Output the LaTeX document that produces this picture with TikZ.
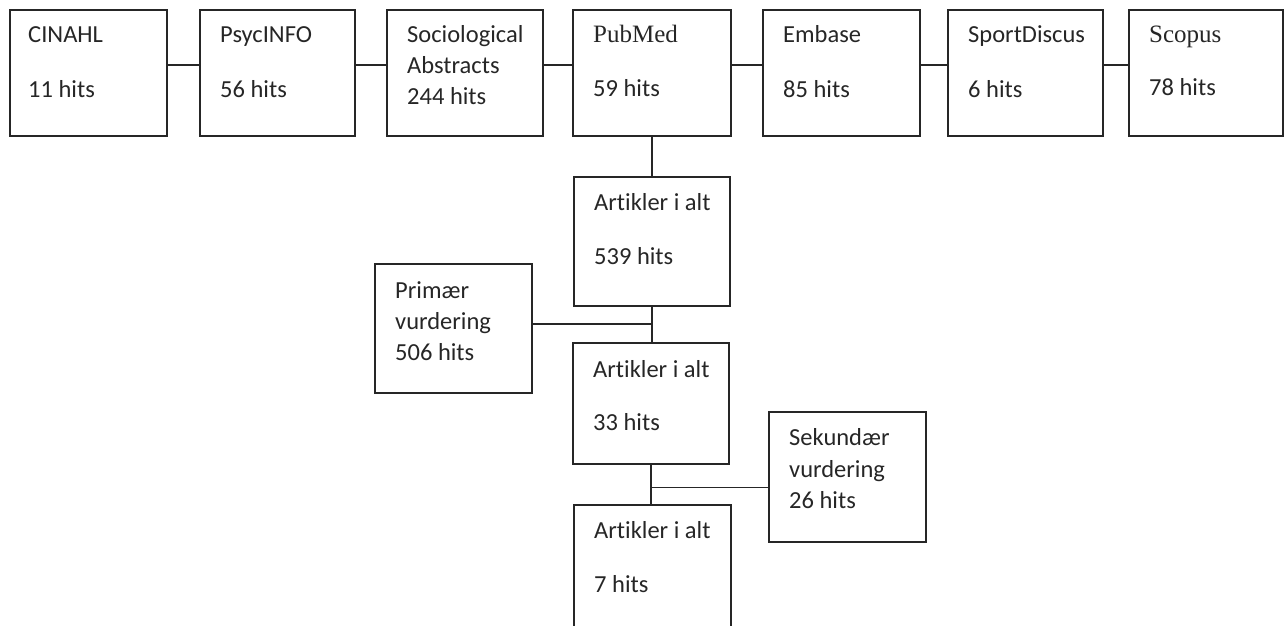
\documentclass[tikz,border=0pt]{standalone}
\usepackage{fontspec}
\setmainfont[Ligatures=NoCommon]{Carlito}
\newfontfamily\serifsf{Liberation Serif}
\definecolor{ink}{gray}{0.15}
\begin{document}
\begin{tikzpicture}[x=1pt,y=-1pt,
  box/.style={draw=ink, line width=1.2pt, inner sep=0pt, outer sep=0pt, anchor=north west, minimum height=#1},
  box/.default=126pt,
  txt/.style={anchor=base west, inner sep=0pt, text=ink, font=\fontsize{24.5}{29}\selectfont},
  stxt/.style={anchor=base west, inner sep=0pt, text=ink, font=\fontsize{25}{29}\serifsf},
  conn/.style={draw=ink, line width=1.2pt}]
\useasboundingbox (0,0) rectangle (1284,625);
\clip (0,0) rectangle (1284,625);
% top row
\node[box, minimum width=157pt] (cin) at (10,10) {};
\node[box, minimum width=155pt] (psy) at (200,10) {};
\node[box, minimum width=156pt] (soc) at (387,10) {};
\node[box, minimum width=158pt] (pub) at (573,10) {};
\node[box, minimum width=157pt] (emb) at (763,10) {};
\node[box, minimum width=155pt] (spo) at (948,10) {};
\node[box, minimum width=154pt] (sco) at (1129,10) {};
% flow boxes
\node[box=129pt, minimum width=156pt] (a1) at (574,177) {};
\node[box=129pt, minimum width=157pt] (prim) at (375,264) {};
\node[box=121pt, minimum width=156pt] (a2) at (573,343) {};
\node[box=130pt, minimum width=157pt] (sek) at (769,412) {};
\node[box=150pt, minimum width=157pt] (a3) at (574,505) {};
% texts
\node[txt] (t1a) at (28,42) {CINAHL};
\node[txt] (t1b) at (28,97) {11 hits};
\node[txt] (t2a) at (220,42) {PsycINFO};
\node[txt] (t2b) at (220,97) {56 hits};
\node[txt] (t3a) at (407,42) {Sociological};
\node[txt] (t3b) at (407,73) {Abstracts};
\node[txt] (t3c) at (407,104) {244 hits};
\node[stxt] (t4a) at (593,42) {PubMed};
\node[txt] (t4b) at (593,96) {59 hits};
\node[txt] (t5a) at (783,42) {Embase};
\node[txt] (t5b) at (783,97) {85 hits};
\node[txt] (t6a) at (968,42) {SportDiscus};
\node[txt] (t6b) at (968,97) {6 hits};
\node[stxt] (t7a) at (1149,42) {Scopus};
\node[txt] (t7b) at (1149,95) {78 hits};
\node[txt] (a1a) at (594,210) {Artikler i alt};
\node[txt] (a1b) at (594,264) {539 hits};
\node[txt] (pra) at (395,298) {Primær};
\node[txt] (prb) at (395,329) {vurdering};
\node[txt] (prc) at (395,360) {506 hits};
\node[txt] (a2a) at (593,377) {Artikler i alt};
\node[txt] (a2b) at (593,430) {33 hits};
\node[txt] (ska) at (789,445) {Sekundær};
\node[txt] (skb) at (789,477) {vurdering};
\node[txt] (skc) at (789,508) {26 hits};
\node[txt] (a3a) at (594,538) {Artikler i alt};
\node[txt] (a3b) at (594,592) {7 hits};
% connector levels
\coordinate (r1) at (0,65);
\coordinate (r2) at (0,324);
\coordinate (r3) at (0,487.5);
\draw[conn] (cin.east |- r1) -- (psy.west |- r1);
\draw[conn] (psy.east |- r1) -- (soc.west |- r1);
\draw[conn] (soc.east |- r1) -- (pub.west |- r1);
\draw[conn] (pub.east |- r1) -- (emb.west |- r1);
\draw[conn] (emb.east |- r1) -- (spo.west |- r1);
\draw[conn] (spo.east |- r1) -- (sco.west |- r1);
\draw[conn] (pub.south) -- (pub.south |- a1.north);
\draw[conn] (a1.south) -- (a1.south |- a2.north);
\coordinate (j1) at (a1.south |- r2);
\draw[conn] (prim.east |- r2) -- (j1);
\draw[conn] (a2.south) -- (a2.south |- a3.north);
\coordinate (j2) at (a2.south |- r3);
\draw[conn] (sek.west |- r3) -- (j2);
\end{tikzpicture}
\end{document}
